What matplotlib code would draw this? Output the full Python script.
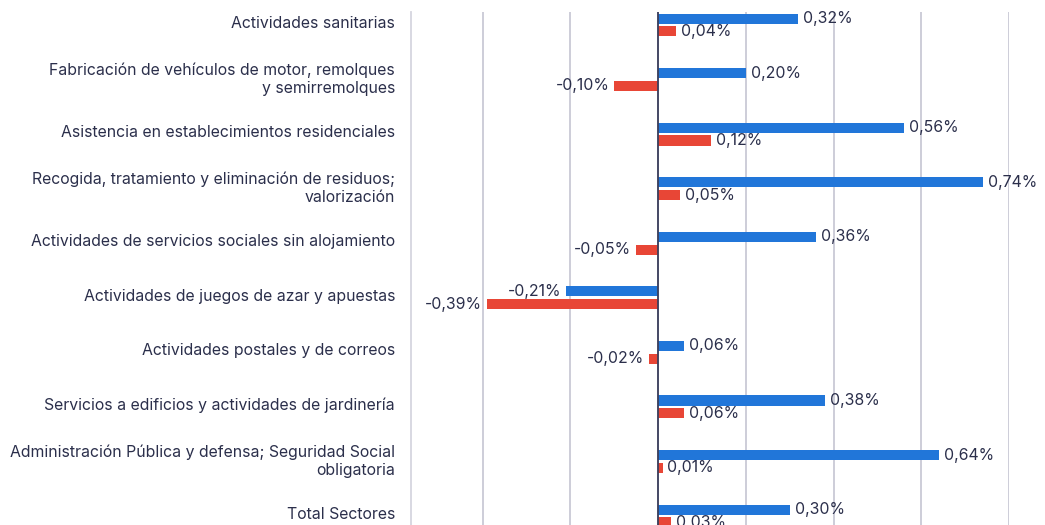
import matplotlib
matplotlib.use("Agg")
import matplotlib.pyplot as plt
import numpy as np

categories = [
    "Actividades sanitarias",
    "Fabricación de vehículos de motor, remolques\ny semirremolques",
    "Asistencia en establecimientos residenciales",
    "Recogida, tratamiento y eliminación de residuos;\nvalorización",
    "Actividades de servicios sociales sin alojamiento",
    "Actividades de juegos de azar y apuestas",
    "Actividades postales y de correos",
    "Servicios a edificios y actividades de jardinería",
    "Administración Pública y defensa; Seguridad Social\nobligatoria",
    "Total Sectores",
]
serie_azul = [0.32, 0.20, 0.56, 0.74, 0.36, -0.21, 0.06, 0.38, 0.64, 0.30]
serie_roja = [0.04, -0.10, 0.12, 0.05, -0.05, -0.39, -0.02, 0.06, 0.01, 0.03]
grid_ticks = [-0.4, -0.2, 0.0, 0.2, 0.4, 0.6, 0.8]

BLUE = "#2176d9"
RED = "#e84636"
TEXT = "#2b2f4b"
GRID = "#c9c9d6"

plt.rcParams['font.family'] = ['Inter', 'DejaVu Sans']

fig = plt.figure(figsize=(10.45, 5.25), dpi=100)
ax = fig.add_axes([411/1045, 0.0, 598/1045, 513/525])

y = np.arange(len(categories))
h = 0.185
off = 0.118
shift = 0.055
ax.barh(y - off + shift, serie_azul, height=h, color=BLUE, zorder=3)
ax.barh(y + off + shift, serie_roja, height=h, color=RED, zorder=3)

def fmt(v):
    return ("%.2f%%" % v).replace(".", ",")

fs = 11.4
for yi, v in zip(y - off + shift, serie_azul):
    ax.annotate(fmt(v), (v, yi), xytext=(3.5 if v >= 0 else -3.5, 0), textcoords="offset points",
                ha="left" if v >= 0 else "right", va="center", fontsize=fs, color=TEXT, zorder=4)
for yi, v in zip(y + off + shift, serie_roja):
    ax.annotate(fmt(v), (v, yi), xytext=(3.5 if v >= 0 else -3.5, 0), textcoords="offset points",
                ha="left" if v >= 0 else "right", va="center", fontsize=fs, color=TEXT, zorder=4)

ax.set_xlim(-0.5636, 0.8)
ax.set_ylim(9 + 12/54.6, -10/54.6)
ax.set_xticks(grid_ticks)
ax.xaxis.grid(True, color=GRID, linewidth=1.3, zorder=0)
ax.axvline(0, color="#3b3f5c", linewidth=1.3, zorder=5)
ax.tick_params(axis="x", length=0, labelbottom=False)
ax.set_yticks(y)
ax.set_yticklabels(categories, fontsize=fs, color=TEXT, ha="right")
ax.tick_params(axis="y", length=0, pad=11.5)
for s in ["top", "right", "bottom"]:
    ax.spines[s].set_visible(False)
ax.spines["left"].set_color("#d6d6df")
ax.spines["left"].set_linewidth(1.3)
ax.set_facecolor("white")

fig.savefig("out.png", dpi=100, facecolor="white")
